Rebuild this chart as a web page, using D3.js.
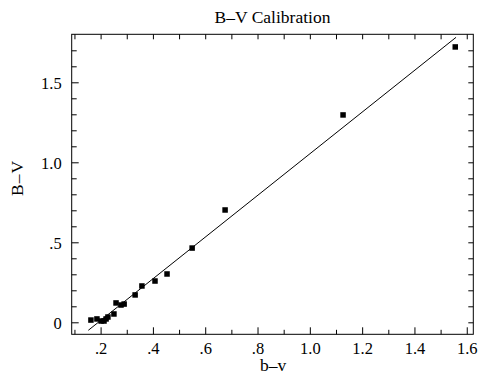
<!DOCTYPE html>
<html>
<head>
<meta charset="utf-8">
<script src="https://cdn.jsdelivr.net/npm/d3@7"></script>
<style>
  html, body { margin: 0; padding: 0; background: #fff; }
  svg { display: block; }
</style>
</head>
<body>
<svg id="chart" width="479" height="375"></svg>
<script>
// Data
const bvSmall = [0.163, 0.186, 0.202, 0.213, 0.221, 0.228, 0.251, 0.259, 0.278, 0.290, 0.332, 0.358, 0.408, 0.454, 0.550, 0.676, 1.127, 1.556];
const BVLarge = [0.014, 0.021, 0.008, 0.008, 0.021, 0.033, 0.052, 0.121, 0.108, 0.114, 0.171, 0.227, 0.258, 0.302, 0.464, 0.702, 1.296, 1.721];
const fitX = [0.153, 1.559];
const fitY = [-0.050, 1.781];
const xMajorTicks = [0.2, 0.4, 0.6, 0.8, 1.0, 1.2, 1.4, 1.6];
const xTickLabels = [".2", ".4", ".6", ".8", "1.0", "1.2", "1.4", "1.6"];
const xMinorTicks = [0.1, 0.3, 0.5, 0.7, 0.9, 1.1, 1.3, 1.5];
const yMajorTicks = [0, 0.5, 1.0, 1.5];
const yTickLabels = ["0", ".5", "1.0", "1.5"];
const yMinorTicks = [0.1, 0.2, 0.3, 0.4, 0.6, 0.7, 0.8, 0.9, 1.1, 1.2, 1.3, 1.4, 1.6, 1.7];
const titleText = "B\u2013V Calibration";
const xLabelText = "b\u2013v";
const yLabelText = "B\u2013V";

const svg = d3.select("#chart");
const L = 71.7, R = 473.3, T = 34.3, B = 334.3;
const FONT = "'Liberation Serif', 'Times New Roman', Tinos, 'DejaVu Serif', serif";

const x = d3.scaleLinear().domain([0.0895, 1.625]).range([L, R]);
const y = d3.scaleLinear().domain([-0.075, 1.8]).range([B, T]);

const tickFont = 16.5;
const titleFont = 17.5;

// Bottom axis (ticks inward)
const gBottom = svg.append("g").attr("transform", `translate(0,${B})`);
gBottom.call(d3.axisBottom(x).tickValues(xMajorTicks).tickSize(-7).tickPadding(0)
  .tickFormat((d, i) => xTickLabels[i]));
gBottom.append("g").call(d3.axisBottom(x).tickValues(xMinorTicks).tickSize(-4.5).tickFormat(""));
gBottom.selectAll("text").attr("y", 19.5).attr("dy", null);

// Top axis
const gTop = svg.append("g").attr("transform", `translate(0,${T})`);
gTop.call(d3.axisTop(x).tickValues(xMajorTicks.concat(xMinorTicks)).tickSize(-5).tickFormat(""));

// Left axis
const gLeft = svg.append("g").attr("transform", `translate(${L},0)`);
gLeft.call(d3.axisLeft(y).tickValues(yMajorTicks).tickSize(-7).tickPadding(0)
  .tickFormat((d, i) => yTickLabels[i]));
gLeft.append("g").call(d3.axisLeft(y).tickValues(yMinorTicks).tickSize(-5).tickFormat(""));
gLeft.selectAll("text").attr("x", -10).attr("dy", "0.38em");

// Right axis
const gRight = svg.append("g").attr("transform", `translate(${R},0)`);
gRight.call(d3.axisRight(y).tickValues(yMajorTicks.concat(yMinorTicks)).tickSize(-5).tickFormat(""));

svg.selectAll("g").attr("font-family", null).attr("font-size", null);
svg.selectAll(".domain").remove();
svg.selectAll(".tick line").attr("stroke", "#000").attr("stroke-width", 1);
svg.selectAll(".tick text").attr("fill", "#000")
  .style("font-family", FONT).style("font-size", tickFont + "px");

// Frame
svg.append("rect").attr("x", L).attr("y", T).attr("width", R - L).attr("height", B - T)
  .attr("fill", "none").attr("stroke", "#000").attr("stroke-width", 1);

// Fit line
svg.append("line")
  .attr("x1", x(fitX[0])).attr("y1", y(fitY[0]))
  .attr("x2", x(fitX[1])).attr("y2", y(fitY[1]))
  .attr("stroke", "#000").attr("stroke-width", 1);

// Points
const s = 5.5;
svg.append("g").selectAll("rect").data(bvSmall).join("rect")
  .attr("x", (d) => x(d) - s / 2)
  .attr("y", (d, i) => y(BVLarge[i]) - s / 2)
  .attr("width", s).attr("height", s).attr("fill", "#000");

// Title and axis labels
svg.append("text").attr("x", (L + R) / 2).attr("y", 22.5).attr("text-anchor", "middle")
  .style("font-family", FONT).style("font-size", titleFont + "px").text(titleText);
svg.append("text").attr("x", 273).attr("y", 371).attr("text-anchor", "middle")
  .style("font-family", FONT).style("font-size", titleFont + "px").text(xLabelText);
svg.append("text").attr("transform", "translate(22.5,178) rotate(-90)").attr("text-anchor", "middle")
  .style("font-family", FONT).style("font-size", titleFont + "px").style("letter-spacing", "1px").text(yLabelText);
</script>
</body>
</html>
